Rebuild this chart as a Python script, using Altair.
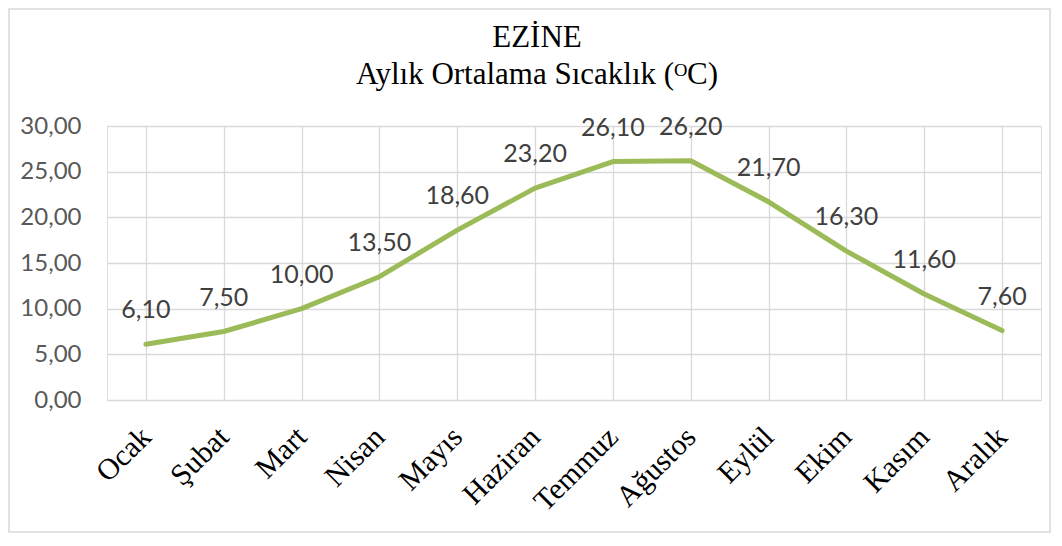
import altair as alt
import pandas as pd

months = ["Ocak", "Şubat", "Mart", "Nisan", "Mayıs", "Haziran",
          "Temmuz", "Ağustos", "Eylül", "Ekim", "Kasım", "Aralık"]
temps = [6.1, 7.5, 10.0, 13.5, 18.6, 23.2, 26.1, 26.2, 21.7, 16.3, 11.6, 7.6]

df = pd.DataFrame({"ay": months, "sicaklik": temps})

SERIF = "'Times New Roman', 'Liberation Serif', 'DejaVu Serif', serif"

W, H = 934, 274
x_enc = alt.X("ay:N", sort=months, title=None,
              scale=alt.Scale(paddingInner=0, paddingOuter=0),
              axis=alt.Axis(bandPosition=0, grid=True, gridColor="#d9d9d9", gridWidth=1.3,
                            ticks=False, domain=False, labelAngle=-45, labelAlign="right",
                            labelBaseline="middle", labelPadding=32,
                            labelFont=SERIF, labelFontSize=30,
                            labelFontWeight="normal", labelColor="#000000"))
y_enc = alt.Y("sicaklik:Q", title=None,
              scale=alt.Scale(domain=[0, 30], nice=False),
              axis=alt.Axis(values=[0, 5, 10, 15, 20, 25, 30], grid=True,
                            gridColor="#d9d9d9", gridWidth=1.3, ticks=False, domain=False,
                            labelExpr="replace(format(datum.value, '.2f'), '.', ',')",
                            labelFont="Lato", labelFontSize=24, labelColor="#595959",
                            labelPadding=26))

base = alt.Chart(df)

line = base.mark_line(color="#9BBB59", strokeWidth=5, strokeCap="round",
                      strokeJoin="round").encode(x=x_enc, y=y_enc)

labels = base.transform_calculate(
    etiket="replace(format(datum.sicaklik, '.2f'), '.', ',')"
).mark_text(font="Lato", fontSize=25, color="#404040", baseline="alphabetic",
            align="center", dy=-26).encode(x=x_enc, y=y_enc, text="etiket:N")

frame = alt.Chart(pd.DataFrame({"k": [0]})).mark_rect(
    fill=None, stroke="#d9d9d9", strokeWidth=1.5, clip=False
).encode(x=alt.value(-98), x2=alt.value(943), y=alt.value(-117), y2=alt.value(406))

chart = alt.layer(frame, line, labels).properties(
    width=W, height=H,
    title=alt.Title(text="EZİNE", subtitle="Aylık Ortalama Sıcaklık (ᴼC)",
                    font=SERIF, fontSize=31, fontWeight="normal",
                    color="#000000", subtitleFont=SERIF,
                    subtitleFontSize=31, subtitleFontWeight="normal",
                    subtitleColor="#000000",
                    subtitlePadding=6, anchor="middle", frame="group",
                    dx=-37, offset=-83),
    autosize=alt.AutoSizeParams(type="none"),
    padding={"left": 99, "top": 118, "right": 10, "bottom": 136},
).configure_view(stroke="#d9d9d9", strokeWidth=1.3).configure(background="white")

chart.save("out.html", embed_options={"renderer": "svg", "actions": False})
